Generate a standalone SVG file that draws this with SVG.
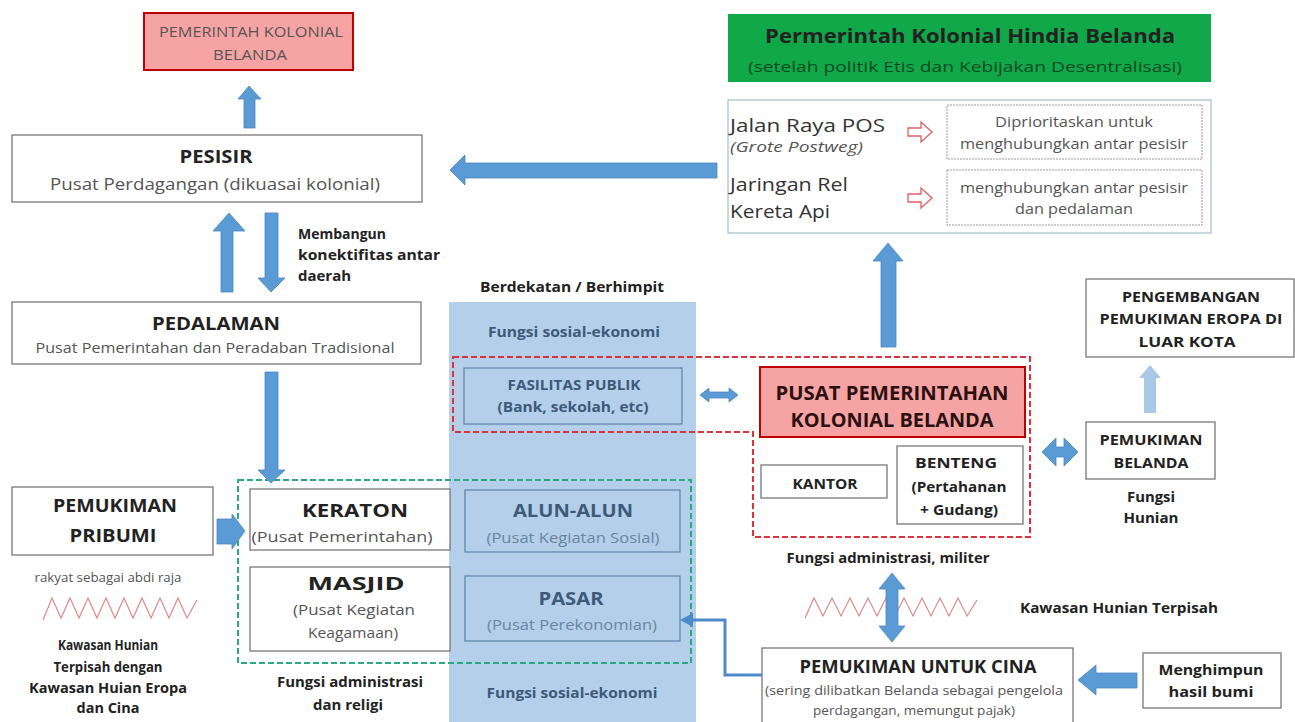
<svg xmlns="http://www.w3.org/2000/svg" width="1295" height="722" viewBox="0 0 1295 722">
<style>
text{font-family:"Open Sans","Liberation Sans",sans-serif;text-anchor:middle;fill:#222}
.box{fill:#fff;stroke:#777;stroke-width:1.3}
.red{fill:#f6a3a3;stroke:#c00000;stroke-width:2}
.blue{fill:#b4cfe9;stroke:#5b80a8;stroke-width:1.2}
.arr{fill:#5b9bd5;stroke:#4a86c0;stroke-width:0.8}
.b{font-weight:bold}
.s{text-anchor:start}
.sub{fill:#555}
.bl{fill:#3d5a78}
.zig{fill:none;stroke:#e08a8a;stroke-width:1.2}
.hol{fill:#fff;stroke:#e06060;stroke-width:1.3}
</style>
<rect x="0" y="0" width="1295" height="722" fill="#fff"/>

<g id="column">
<rect x="449" y="302" width="247" height="420" fill="#b4cfe9"/>
<text class="b" font-size="14" x="572" y="292" textLength="184" lengthAdjust="spacingAndGlyphs">Berdekatan / Berhimpit</text>
<text class="b bl" font-size="14" x="574" y="337" textLength="172" lengthAdjust="spacingAndGlyphs">Fungsi sosial-ekonomi</text>
<text class="b bl" font-size="14" x="572" y="698" textLength="171" lengthAdjust="spacingAndGlyphs">Fungsi sosial-ekonomi</text>
</g>

<g id="pemerintah-kolonial">
<rect class="red" x="144" y="13" width="209" height="57"/>
<text class="sub" font-size="15" x="251" y="37" textLength="184" lengthAdjust="spacingAndGlyphs">PEMERINTAH KOLONIAL</text>
<text class="sub" font-size="15" x="250" y="60" textLength="74" lengthAdjust="spacingAndGlyphs">BELANDA</text>
</g>

<g id="pesisir">
<rect class="box" x="12" y="135" width="410" height="67"/>
<text class="b" font-size="18" x="216" y="163" textLength="73" lengthAdjust="spacingAndGlyphs">PESISIR</text>
<text class="sub" font-size="17" x="215" y="190" textLength="330" lengthAdjust="spacingAndGlyphs">Pusat Perdagangan (dikuasai kolonial)</text>
</g>

<g id="pedalaman">
<rect class="box" x="12" y="302" width="409" height="62"/>
<text class="b" font-size="18" x="216" y="330" textLength="128" lengthAdjust="spacingAndGlyphs">PEDALAMAN</text>
<text class="sub" font-size="15" x="215" y="353" textLength="359" lengthAdjust="spacingAndGlyphs">Pusat Pemerintahan dan Peradaban Tradisional</text>
</g>

<g id="label-konektifitas">
<text class="b s" font-size="14" x="298" y="239" textLength="88" lengthAdjust="spacingAndGlyphs">Membangun</text>
<text class="b s" font-size="14" x="298" y="260" textLength="142" lengthAdjust="spacingAndGlyphs">konektifitas antar</text>
<text class="b s" font-size="14" x="298" y="281" textLength="53" lengthAdjust="spacingAndGlyphs">daerah</text>
</g>

<g id="hindia-belanda">
<rect x="728" y="14" width="483" height="68" fill="#10a849"/>
<text class="b" font-size="20" x="970" y="43" fill="#111" textLength="410" lengthAdjust="spacingAndGlyphs">Permerintah Kolonial Hindia Belanda</text>
<text font-size="15" x="965" y="72" style="fill:#0b4a20" textLength="434" lengthAdjust="spacingAndGlyphs">(setelah politik Etis dan Kebijakan Desentralisasi)</text>
</g>

<g id="jalan">
<rect x="728" y="100" width="483" height="133" fill="#fff" stroke="#a9c4d0" stroke-width="1.3"/>
<text class="s" font-size="19" x="730" y="132" style="fill:#333" textLength="155" lengthAdjust="spacingAndGlyphs">Jalan Raya POS</text>
<text class="s" font-size="14" x="730" y="152" style="font-style:italic;fill:#555" textLength="133" lengthAdjust="spacingAndGlyphs">(Grote Postweg)</text>
<text class="s" font-size="19" x="730" y="191" style="fill:#333" textLength="118" lengthAdjust="spacingAndGlyphs">Jaringan Rel</text>
<text class="s" font-size="19" x="730" y="218" style="fill:#333" textLength="100" lengthAdjust="spacingAndGlyphs">Kereta Api</text>
<path class="hol" d="M908 128 H921 V122 L932 132 L921 142 V136 H908 Z"/>
<path class="hol" d="M908 194 H921 V188 L932 198 L921 208 V202 H908 Z"/>
<rect x="947" y="105" width="255" height="54" fill="#fff" stroke="#999" stroke-width="1" stroke-dasharray="2 1"/>
<text class="sub" font-size="15" x="1074" y="127" textLength="158" lengthAdjust="spacingAndGlyphs">Diprioritaskan untuk</text>
<text class="sub" font-size="15" x="1074" y="149" textLength="228" lengthAdjust="spacingAndGlyphs">menghubungkan antar pesisir</text>
<rect x="947" y="170" width="255" height="55" fill="#fff" stroke="#999" stroke-width="1" stroke-dasharray="2 1"/>
<text class="sub" font-size="15" x="1074" y="193" textLength="228" lengthAdjust="spacingAndGlyphs">menghubungkan antar pesisir</text>
<text class="sub" font-size="15" x="1074" y="214" textLength="118" lengthAdjust="spacingAndGlyphs">dan pedalaman</text>
</g>

<g id="pengembangan">
<rect class="box" x="1086" y="279" width="208" height="78"/>
<text class="b" font-size="14" x="1191" y="302" textLength="138" lengthAdjust="spacingAndGlyphs">PENGEMBANGAN</text>
<text class="b" font-size="14" x="1191" y="324" textLength="183" lengthAdjust="spacingAndGlyphs">PEMUKIMAN EROPA DI</text>
<text class="b" font-size="14" x="1187" y="347" textLength="97" lengthAdjust="spacingAndGlyphs">LUAR KOTA</text>
</g>

<g id="pemukiman-belanda">
<rect class="box" x="1086" y="422" width="129" height="57"/>
<text class="b" font-size="14" x="1151" y="445" textLength="103" lengthAdjust="spacingAndGlyphs">PEMUKIMAN</text>
<text class="b" font-size="14" x="1151" y="468" textLength="75" lengthAdjust="spacingAndGlyphs">BELANDA</text>
<text class="b" font-size="14" x="1151" y="502" textLength="48" lengthAdjust="spacingAndGlyphs">Fungsi</text>
<text class="b" font-size="14" x="1151" y="523" textLength="55" lengthAdjust="spacingAndGlyphs">Hunian</text>
</g>

<g id="fasilitas">
<rect class="blue" x="464" y="368" width="218" height="56"/>
<text class="b bl" font-size="14" x="574" y="390" textLength="133" lengthAdjust="spacingAndGlyphs">FASILITAS PUBLIK</text>
<text class="b bl" font-size="14" x="573" y="412" textLength="151" lengthAdjust="spacingAndGlyphs">(Bank, sekolah, etc)</text>
</g>

<g id="pusat-pemerintahan">
<rect class="red" x="760" y="367" width="265" height="70"/>
<text class="b" font-size="19" x="892" y="400" style="fill:#2a1010" textLength="233" lengthAdjust="spacingAndGlyphs">PUSAT PEMERINTAHAN</text>
<text class="b" font-size="19" x="892" y="427" style="fill:#2a1010" textLength="203" lengthAdjust="spacingAndGlyphs">KOLONIAL BELANDA</text>
</g>

<g id="kantor">
<rect class="box" x="761" y="465" width="126" height="33"/>
<text class="b" font-size="14" x="825" y="489" textLength="65" lengthAdjust="spacingAndGlyphs">KANTOR</text>
</g>

<g id="benteng">
<rect class="box" x="897" y="446" width="126" height="78"/>
<text class="b" font-size="14" x="956" y="468" textLength="82" lengthAdjust="spacingAndGlyphs">BENTENG</text>
<text class="b" font-size="14" x="959" y="492" textLength="95" lengthAdjust="spacingAndGlyphs">(Pertahanan</text>
<text class="b" font-size="14" x="959" y="515" textLength="78" lengthAdjust="spacingAndGlyphs">+ Gudang)</text>
</g>

<g id="red-zone">
<path d="M453 357 H1030 V537 H753 V432 H453 Z" fill="none" stroke="#e0303a" stroke-width="2" stroke-dasharray="6 3"/>
<text class="b" font-size="14" x="888" y="563" textLength="203" lengthAdjust="spacingAndGlyphs">Fungsi administrasi, militer</text>
</g>

<g id="keraton">
<rect class="box" x="250" y="489" width="200" height="61"/>
<text class="b" font-size="18" x="355" y="517" textLength="106" lengthAdjust="spacingAndGlyphs">KERATON</text>
<text class="sub" font-size="15" x="342" y="542" textLength="181" lengthAdjust="spacingAndGlyphs">(Pusat Pemerintahan)</text>
</g>

<g id="masjid">
<rect class="box" x="250" y="567" width="200" height="84"/>
<text class="b" font-size="18" x="356" y="590" textLength="97" lengthAdjust="spacingAndGlyphs">MASJID</text>
<text class="sub" font-size="15" x="354" y="615" textLength="122" lengthAdjust="spacingAndGlyphs">(Pusat Kegiatan</text>
<text class="sub" font-size="15" x="353" y="638" textLength="90" lengthAdjust="spacingAndGlyphs">Keagamaan)</text>
</g>

<g id="alun-alun">
<rect class="blue" x="465" y="490" width="215" height="62"/>
<text class="b bl" font-size="18" x="573" y="517" textLength="120" lengthAdjust="spacingAndGlyphs">ALUN-ALUN</text>
<text font-size="15" x="573" y="543" style="fill:#6a85a0" textLength="173" lengthAdjust="spacingAndGlyphs">(Pusat Kegiatan Sosial)</text>
</g>

<g id="pasar">
<rect class="blue" x="465" y="576" width="215" height="65"/>
<text class="b bl" font-size="18" x="571" y="605" textLength="65" lengthAdjust="spacingAndGlyphs">PASAR</text>
<text font-size="15" x="572" y="630" style="fill:#6a85a0" textLength="170" lengthAdjust="spacingAndGlyphs">(Pusat Perekonomian)</text>
</g>

<g id="green-zone">
<rect x="238" y="480" width="453" height="183" fill="none" stroke="#2aa880" stroke-width="2" stroke-dasharray="6 3"/>
<text class="b" font-size="14" x="350" y="687" textLength="146" lengthAdjust="spacingAndGlyphs">Fungsi administrasi</text>
<text class="b" font-size="14" x="348" y="710" textLength="70" lengthAdjust="spacingAndGlyphs">dan religi</text>
</g>

<g id="pribumi">
<rect class="box" x="12" y="487" width="201" height="68"/>
<text class="b" font-size="18" x="115" y="512" textLength="124" lengthAdjust="spacingAndGlyphs">PEMUKIMAN</text>
<text class="b" font-size="18" x="113" y="542" textLength="87" lengthAdjust="spacingAndGlyphs">PRIBUMI</text>
<text class="sub" font-size="12" x="108" y="582" textLength="147" lengthAdjust="spacingAndGlyphs">rakyat sebagai abdi raja</text>
<polyline class="zig" points="43,620 52,598 61,618 70,598 79,618 88,598 97,618 106,598 115,618 124,598 133,618 142,598 151,618 160,598 169,618 178,598 187,618 197,600"/>
<text class="b" font-size="14" x="108" y="650" textLength="100" lengthAdjust="spacingAndGlyphs">Kawasan Hunian</text>
<text class="b" font-size="14" x="108" y="672" textLength="109" lengthAdjust="spacingAndGlyphs">Terpisah dengan</text>
<text class="b" font-size="14" x="108" y="693" textLength="158" lengthAdjust="spacingAndGlyphs">Kawasan Huian Eropa</text>
<text class="b" font-size="14" x="108" y="713" textLength="63" lengthAdjust="spacingAndGlyphs">dan Cina</text>
</g>

<g id="cina">
<rect class="box" x="762" y="648" width="311" height="80"/>
<text class="b" font-size="17" x="918" y="673" textLength="237" lengthAdjust="spacingAndGlyphs">PEMUKIMAN UNTUK CINA</text>
<text class="sub" font-size="12" x="914" y="695" textLength="298" lengthAdjust="spacingAndGlyphs">(sering dilibatkan Belanda sebagai pengelola</text>
<text class="sub" font-size="12" x="914" y="715" textLength="202" lengthAdjust="spacingAndGlyphs">perdagangan, memungut pajak)</text>
<polyline class="zig" points="805,618 814,598 823,616 832,598 841,616 850,598 859,616 868,598 877,616 886,598 895,616 904,598 913,616 922,598 931,616 940,598 949,616 958,598 967,616 977,600"/>
<text class="b s" font-size="14" x="1020" y="613" textLength="198" lengthAdjust="spacingAndGlyphs">Kawasan Hunian Terpisah</text>
</g>

<g id="menghimpun">
<rect class="box" x="1143" y="653" width="138" height="55"/>
<text class="b" font-size="15" x="1211" y="675" textLength="105" lengthAdjust="spacingAndGlyphs">Menghimpun</text>
<text class="b" font-size="15" x="1211" y="697" textLength="85" lengthAdjust="spacingAndGlyphs">hasil  bumi</text>
</g>

<g id="connectors">
<path class="arr" d="M249 86 L261 99 H255 V128 H244 V99 H238 Z"/>
<path class="arr" d="M229 213 L245 231 H233 V292 H221 V231 H213 Z"/>
<path class="arr" d="M271 292 L285 278 H278 V213 H265 V278 H258 Z"/>
<path class="arr" d="M271 483 L285 470 H278 V372 H265 V470 H258 Z"/>
<path class="arr" d="M450 170 L465 155 V163 H717 V178 H465 V185 Z"/>
<path class="arr" d="M888 243 L903 261 H896 V347 H881 V261 H873 Z"/>
<path d="M1150 365 L1161 378 H1156 V413 H1144 V378 H1139 Z" fill="#a9c8e8"/>
<path class="arr" d="M1042 452 L1056 438 V447 H1064 V438 L1078 452 L1064 466 V457 H1056 V466 Z"/>
<path class="arr" d="M700 395 L709 388 V392 H729 V388 L738 395 L729 402 V398 H709 V402 Z"/>
<path class="arr" d="M892 573 L905 589 H898 V626 H905 L892 642 L879 626 H886 V589 H879 Z"/>
<path class="arr" d="M1078 680 L1096 665 V673 H1137 V688 H1096 V695 Z"/>
<path class="arr" d="M245 531 L232 514 V519 H217 V544 H232 V549 Z"/>
<polyline points="762,675 725,675 725,620 692,620" fill="none" stroke="#4f8ac8" stroke-width="3"/>
<path d="M680 620 L693 613 V627 Z" fill="#4f8ac8"/>
</g>
</svg>
